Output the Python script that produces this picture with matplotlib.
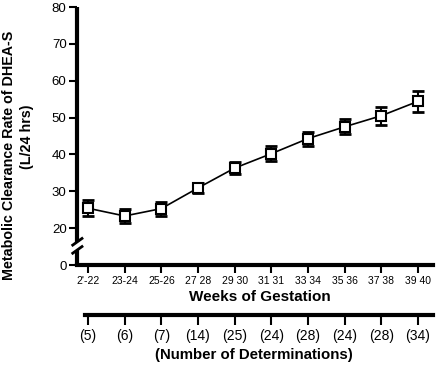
import numpy as np
import matplotlib
matplotlib.use('Agg')
font = {'family': 'sans-serif',
        'sans-serif': ['Liberation Sans', 'DejaVu Sans'],
        'size': 9}
matplotlib.rc('font', **font)
from matplotlib import pyplot as plt
import matplotlib.transforms as mtrans

# data
weeks = ["2'-22", "23-24", "25-26", "27 28", "29 30",
         "31 31", "33 34", "35 36", "37 38", "39 40"]
mcr = [25.4, 23.3, 25.3, 30.9, 36.3, 40.2, 44.3, 47.5, 50.5, 54.4]
err = [2.2, 1.9, 1.9, 1.4, 1.7, 2.0, 1.9, 2.0, 2.5, 2.8]
n_det = [5, 6, 7, 14, 25, 24, 28, 24, 28, 34]
ytick_vals = [0, 20, 30, 40, 50, 60, 70, 80]


def squash(v):
    # broken axis: 0..20 squeezed into the space of 10 units
    v = np.asarray(v, dtype=float)
    return np.where(v >= 20, v - 10, v / 2.0)


x = np.arange(len(weeks))

fig = plt.figure(figsize=(4.37, 3.65), dpi=100)
ax = fig.add_axes([77/437, 1-265/365, 356/437, 258/365])

ax.errorbar(x, squash(mcr), yerr=err, fmt='-', color='k', lw=1.2,
            ecolor='k', elinewidth=1.5, capsize=4, capthick=2, zorder=2)
ax.plot(x, squash(mcr), 's', ms=6.5, mfc='white', mec='k', mew=1.5, zorder=3)

ax.set_xlim(-0.3, 9.41)
ax.set_ylim(0, 70)
for s in ['top', 'right', 'left']:
    ax.spines[s].set_visible(False)
ax.spines['bottom'].set_linewidth(3)

ax.set_yticks(squash(ytick_vals))
ax.set_yticklabels([str(v) for v in ytick_vals])
ax.set_xticks(x)
ax.set_xticklabels(weeks, fontsize=7.5)
ax.tick_params(axis='y', direction='out', length=6, width=1.5, pad=1.5, labelsize=9.5)
ax.tick_params(axis='x', direction='out', length=6, width=1.5, pad=2)

# left spine drawn in two pieces with break marks
tr = mtrans.blended_transform_factory(ax.transAxes, ax.transData)
ax.plot([0, 0], [0, 4.2], color='k', lw=3, transform=tr, clip_on=False, solid_capstyle='butt')
ax.plot([0, 0], [6.3, 70], color='k', lw=3, transform=tr, clip_on=False, solid_capstyle='butt')
ax.plot([-0.012, 0.014], [3.2, 5.0], color='k', lw=2, transform=tr, clip_on=False)
ax.plot([-0.012, 0.014], [5.4, 7.2], color='k', lw=2, transform=tr, clip_on=False)

fig.text(260/437, 1-297/365, 'Weeks of Gestation', ha='center', va='center',
         fontsize=11, fontweight='bold')

# second axis: number of determinations
ax2 = fig.add_axes([77/437, 1-315/365, 356/437, 0.001])
ax2.set_xlim(ax.get_xlim())
ax2.set_yticks([])
for s in ['top', 'right', 'left']:
    ax2.spines[s].set_visible(False)
ax2.spines['bottom'].set_linewidth(3)
ax2.spines['bottom'].set_bounds(-0.08, 9.41)
ax2.set_xticks(x)
ax2.set_xticklabels(['(%d)' % n for n in n_det], fontsize=10)
ax2.tick_params(axis='x', direction='out', length=7, width=1.5, pad=3)
fig.text(254/437, 1-355/365, '(Number of Determinations)', ha='center', va='center',
         fontsize=10.8, fontweight='bold')

fig.text(9/437, 1-155/365, 'Metabolic Clearance Rate of DHEA-S', rotation=90,
         ha='center', va='center', fontsize=10.3, fontweight='bold')
fig.text(27/437, 1-137/365, '(L/24 hrs)', rotation=90,
         ha='center', va='center', fontsize=10.3, fontweight='bold')

fig.savefig('out.png', dpi=100)
